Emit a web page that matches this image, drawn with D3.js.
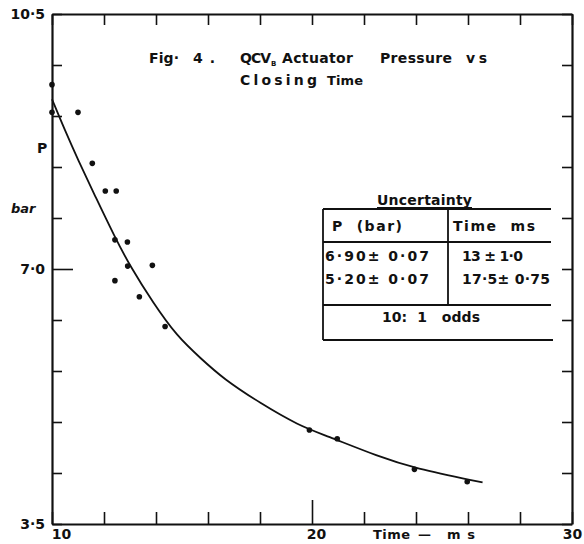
<!DOCTYPE html>
<html>
<head>
<meta charset="utf-8">
<script src="https://cdn.jsdelivr.net/npm/d3@7"></script>
<style>
  body { margin: 0; background: #fff; }
  svg { display: block; }
  text { font-family: "DejaVu Sans", "Liberation Sans", sans-serif; font-weight: bold; fill: #111; white-space: pre; }
</style>
</head>
<body>
<svg id="chart" width="584" height="544"></svg>
<script>
// measured points: closing time (ms) vs actuator pressure (bar)
var timeMs = [10, 10, 11.0, 11.55, 12.05, 12.47, 12.42, 12.9, 12.91, 13.86, 12.42, 13.36, 14.35, 19.9, 20.97, 23.94, 25.97];
var pressureBar = [9.53, 9.15, 9.15, 8.45, 8.07, 8.07, 7.40, 7.37, 7.04, 7.05, 6.84, 6.62, 6.21, 4.79, 4.67, 4.25, 4.08];

// faired curve
var curveTime = [10, 10.5, 11, 11.7, 12.4, 13, 13.9, 14.8, 15.7, 16.6, 18, 19.5, 20.5, 22.6, 23.9, 26.56];
var curvePressure = [9.33, 8.9, 8.5, 7.97, 7.45, 7.04, 6.53, 6.08, 5.78, 5.49, 5.16, 4.85, 4.72, 4.42, 4.27, 4.07];

var xTicks = [10, 12, 14, 16, 18, 20, 22, 24, 26, 28, 30];
var xLabels = {10: "10", 20: "20", 30: "30"};
var yTicks = [3.5, 4.2, 4.9, 5.6, 6.3, 7.0, 7.7, 8.4, 9.1, 9.8, 10.5];
var yLabels = {3.5: "3·5", 7: "7·0", 10.5: "10·5"};

var tableHead = ["P  (bar)", "Time  ms"];
var tableRows = [["6·90± 0·07", "13 ± 1·0"], ["5·20± 0·07", "17·5± 0·75"]];

var svg = d3.select("#chart");
var x = d3.scaleLinear().domain([10, 30]).range([52, 572]);
var y = d3.scaleLinear().domain([3.5, 10.5]).range([524, 14]);

// spaced-out word, like the stencil lettering of the original
function word(px, py, w, str, size) {
  return svg.append("text").attr("x", px).attr("y", py).attr("textLength", w)
    .attr("lengthAdjust", "spacing").attr("font-size", size).text(str);
}

//----- axes (ticks point inward on all four sides)
var bottom = svg.append("g").attr("transform", "translate(0," + y(3.5) + ")")
  .call(d3.axisBottom(x).tickValues(xTicks).tickSizeInner(-12).tickSizeOuter(0).tickPadding(4)
    .tickFormat(function (d) { return xLabels[d] || ""; }));
bottom.selectAll(".tick line").filter(function (d) { return d === 20; }).attr("y2", -24);
bottom.selectAll(".tick text").attr("dy", "0.76em").attr("font-size", 14)
  .attr("dx", function (d) { return d === 10 ? 9 : (d === 20 ? 4 : 0); });

var left = svg.append("g").attr("transform", "translate(" + x(10) + ",0)")
  .call(d3.axisLeft(y).tickValues(yTicks).tickSizeInner(-10).tickSizeOuter(0).tickPadding(7)
    .tickFormat(function (d) { return yLabels[d] || ""; }));
left.selectAll(".tick line").filter(function (d) { return d === 7; }).attr("x2", 21);
left.selectAll(".tick text").attr("font-size", 14);

svg.append("g").attr("transform", "translate(0," + y(10.5) + ")")
  .call(d3.axisTop(x).tickValues(xTicks).tickSizeInner(-11).tickSizeOuter(0).tickFormat(""));
svg.append("g").attr("transform", "translate(" + x(30) + ",0)")
  .call(d3.axisRight(y).tickValues(yTicks).tickSizeInner(-10).tickSizeOuter(0).tickFormat(""));

svg.selectAll(".domain").attr("stroke", "#111").attr("stroke-width", 2.2);
svg.selectAll(".tick line").attr("stroke", "#111").attr("stroke-width", 1.6);
svg.selectAll("g").attr("font-family", null);

//----- curve and points
var line = d3.line().x(function (d) { return x(d[0]); }).y(function (d) { return y(d[1]); })
  .curve(d3.curveBasis);
svg.append("path").datum(curveTime.map(function (t, i) { return [t, curvePressure[i]]; }))
  .attr("d", line).attr("fill", "none").attr("stroke", "#111").attr("stroke-width", 1.8);

svg.selectAll("circle.pt").data(timeMs).enter().append("circle").attr("class", "pt")
  .attr("cx", function (d) { return x(d); })
  .attr("cy", function (d, i) { return y(pressureBar[i]); })
  .attr("r", 2.8).attr("fill", "#111");

//----- axis labels
svg.append("text").attr("x", 37).attr("y", 153).attr("font-size", 14).text("P");
svg.append("text").attr("x", 11).attr("y", 213).attr("font-size", 13).style("font-style", "italic").text("bar");
word(373, 539, 37, "Time", 13);
word(418, 539, 19, "—", 13);
word(447, 539, 28, "ms", 13);

//----- title
word(149, 63, 30, "Fig·", 14);
word(193, 63, 22, "4.", 14);
word(240, 63, 31, "QCV", 14);
svg.append("text").attr("x", 271).attr("y", 66).attr("font-size", 7).text("B");
word(282, 63, 71, "Actuator", 14);
word(380, 63, 72, "Pressure", 14);
word(466, 63, 21, "vs", 14);
word(240, 85, 77, "Closing", 14);
word(327, 85, 36, "Time", 13);

//----- uncertainty table
var tb = svg.append("g").attr("stroke", "#111").attr("stroke-width", 1.8);
tb.append("line").attr("x1", 377).attr("x2", 472).attr("y1", 208).attr("y2", 208);
tb.append("line").attr("x1", 323).attr("x2", 551).attr("y1", 209).attr("y2", 209);
tb.append("line").attr("x1", 323).attr("x2", 551).attr("y1", 242).attr("y2", 242);
tb.append("line").attr("x1", 323).attr("x2", 551).attr("y1", 305).attr("y2", 305);
tb.append("line").attr("x1", 323).attr("x2", 553).attr("y1", 340).attr("y2", 340);
tb.append("line").attr("x1", 323).attr("x2", 323).attr("y1", 209).attr("y2", 340);
tb.append("line").attr("x1", 448).attr("x2", 448).attr("y1", 209).attr("y2", 305);

word(377, 205, 95, "Uncertainty", 14);
word(332, 231, 70, tableHead[0], 14);
word(453, 231, 82, tableHead[1], 14);
var colW = [[104, 61], [104, 88]];
tableRows.forEach(function (r, i) {
  word(325, 261 + i * 23, colW[i][0], r[0], 14);
  word(462, 261 + i * 23, colW[i][1], r[1], 14);
});
word(382, 322, 98, "10:  1   odds", 14);
</script>
</body>
</html>
